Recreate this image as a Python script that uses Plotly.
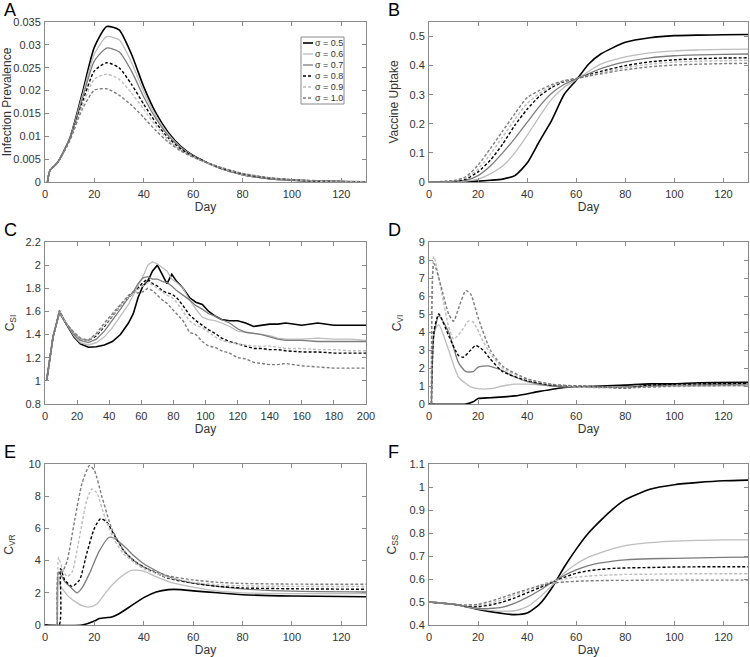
"""
Six-panel figure: epidemic / vaccination dynamics for several sigma values.
"""

import plotly.graph_objects as go


# ==========================================================
# DATA
# ==========================================================
sigmas = ["σ = 0.5", "σ = 0.6", "σ = 0.7", "σ = 0.8", "σ = 0.9", "σ = 1.0"]

# Panel A - infection prevalence
days_a = [1, 2, 5, 10, 15, 20, 25, 30, 35, 40, 45, 50, 55, 60, 70, 80, 90, 100, 110, 120, 130]
prev_05 = [0, 0.0025, 0.0042, 0.0095, 0.0192, 0.0295, 0.0340, 0.0333, 0.0280, 0.0208, 0.0150, 0.0108, 0.0078, 0.0058, 0.0032, 0.0016, 0.0008, 0.0004, 0.0002, 0.0001, 0.00005]
prev_06 = [0, 0.0025, 0.0042, 0.0094, 0.0186, 0.0280, 0.0318, 0.0311, 0.0262, 0.0197, 0.0144, 0.0104, 0.0076, 0.0057, 0.0032, 0.0016, 0.0008, 0.0004, 0.0002, 0.0001, 0.00005]
prev_07 = [0, 0.0025, 0.0042, 0.0093, 0.0180, 0.0265, 0.0293, 0.0285, 0.0243, 0.0186, 0.0138, 0.0101, 0.0075, 0.0057, 0.0032, 0.0017, 0.0009, 0.0004, 0.0002, 0.0001, 0.00005]
prev_08 = [0, 0.0025, 0.0042, 0.0092, 0.0172, 0.0243, 0.0261, 0.0250, 0.0214, 0.0170, 0.0129, 0.0096, 0.0072, 0.0056, 0.0033, 0.0018, 0.0009, 0.0005, 0.0002, 0.0001, 0.00005]
prev_09 = [0, 0.0025, 0.0042, 0.0091, 0.0166, 0.0225, 0.0236, 0.0225, 0.0195, 0.0159, 0.0122, 0.0092, 0.0070, 0.0055, 0.0033, 0.0018, 0.0010, 0.0005, 0.0002, 0.0001, 0.00005]
prev_10 = [0, 0.0025, 0.0042, 0.0090, 0.0158, 0.0201, 0.0204, 0.0190, 0.0168, 0.0141, 0.0112, 0.0087, 0.0068, 0.0054, 0.0034, 0.0019, 0.0010, 0.0005, 0.0003, 0.0001, 0.00005]

# Panel B - vaccine uptake
days_b = [0, 10, 15, 20, 25, 30, 35, 40, 45, 50, 55, 60, 65, 70, 80, 90, 100, 110, 120, 130]
vacc_05 = [0, 0.0005, 0.001, 0.003, 0.006, 0.010, 0.022, 0.065, 0.140, 0.212, 0.300, 0.350, 0.405, 0.440, 0.480, 0.496, 0.503, 0.505, 0.506, 0.507]
vacc_06 = [0, 0.001, 0.003, 0.010, 0.028, 0.055, 0.100, 0.160, 0.225, 0.285, 0.325, 0.352, 0.380, 0.405, 0.430, 0.444, 0.451, 0.454, 0.456, 0.457]
vacc_07 = [0, 0.002, 0.006, 0.022, 0.055, 0.100, 0.150, 0.205, 0.260, 0.305, 0.335, 0.354, 0.372, 0.390, 0.413, 0.427, 0.434, 0.437, 0.439, 0.440]
vacc_08 = [0, 0.003, 0.010, 0.035, 0.075, 0.130, 0.195, 0.250, 0.295, 0.325, 0.345, 0.355, 0.368, 0.380, 0.400, 0.413, 0.420, 0.424, 0.426, 0.427]
vacc_09 = [0, 0.004, 0.014, 0.045, 0.095, 0.155, 0.215, 0.270, 0.305, 0.330, 0.347, 0.356, 0.366, 0.376, 0.393, 0.405, 0.412, 0.415, 0.417, 0.418]
vacc_10 = [0, 0.005, 0.018, 0.058, 0.115, 0.175, 0.235, 0.290, 0.315, 0.335, 0.348, 0.356, 0.364, 0.372, 0.386, 0.396, 0.402, 0.405, 0.407, 0.408]

# Panel C - C_SI
days_c = [1, 5, 9, 13, 18, 22, 27, 32, 37, 42, 47, 52, 55, 58, 61, 64, 67, 70, 73, 76, 79,
          82, 86, 90, 94, 98, 102, 106, 110, 115, 120, 125, 130, 135, 140, 145, 150, 160, 170, 180, 190, 200]
csi_05 = [1.0, 1.38, 1.59, 1.5, 1.38, 1.32, 1.29, 1.295, 1.31, 1.34, 1.40, 1.5, 1.58, 1.72, 1.82, 1.86, 1.95, 2.0, 1.92, 1.84, 1.92,
          1.86, 1.8, 1.72, 1.68, 1.66, 1.6, 1.56, 1.53, 1.52, 1.52, 1.5, 1.47, 1.48, 1.49, 1.49, 1.5, 1.48, 1.5, 1.48, 1.48, 1.48]
csi_06 = [1.0, 1.38, 1.59, 1.5, 1.39, 1.33, 1.31, 1.33, 1.38, 1.46, 1.56, 1.66, 1.74, 1.82, 1.9, 2.0, 2.03, 2.01, 1.98, 1.95, 1.88,
          1.85, 1.8, 1.7, 1.62, 1.55, 1.53, 1.52, 1.5, 1.47, 1.43, 1.42, 1.41, 1.4, 1.39, 1.37, 1.36, 1.36, 1.37, 1.36, 1.36, 1.35]
csi_07 = [1.0, 1.38, 1.6, 1.5, 1.4, 1.35, 1.33, 1.36, 1.43, 1.52, 1.62, 1.72, 1.77, 1.84, 1.89, 1.9, 1.88, 1.88, 1.86, 1.85, 1.82,
          1.78, 1.74, 1.7, 1.65, 1.62, 1.58, 1.56, 1.53, 1.5, 1.45, 1.42, 1.41, 1.4, 1.38, 1.36, 1.35, 1.35, 1.34, 1.34, 1.34, 1.34]
csi_08 = [1.0, 1.38, 1.6, 1.5, 1.41, 1.36, 1.35, 1.39, 1.47, 1.56, 1.65, 1.72, 1.76, 1.8, 1.85, 1.88, 1.84, 1.82, 1.78, 1.76, 1.75,
          1.72, 1.65, 1.57, 1.52, 1.48, 1.44, 1.41, 1.37, 1.34, 1.32, 1.3, 1.28, 1.28, 1.27, 1.27, 1.26, 1.25, 1.25, 1.24, 1.24, 1.24]
csi_09 = [1.0, 1.38, 1.6, 1.5, 1.41, 1.36, 1.35, 1.4, 1.48, 1.57, 1.65, 1.72, 1.76, 1.79, 1.82, 1.85, 1.83, 1.8, 1.77, 1.74, 1.72,
          1.68, 1.6, 1.52, 1.48, 1.46, 1.42, 1.38, 1.35, 1.33, 1.32, 1.31, 1.3, 1.3, 1.3, 1.29, 1.28, 1.28, 1.27, 1.27, 1.26, 1.26]
csi_10 = [1.0, 1.38, 1.61, 1.5, 1.42, 1.37, 1.35, 1.41, 1.5, 1.58, 1.66, 1.74, 1.77, 1.76, 1.77, 1.8, 1.78, 1.74, 1.7, 1.67, 1.62,
          1.58, 1.52, 1.42, 1.4, 1.34, 1.3, 1.29, 1.26, 1.24, 1.2, 1.19, 1.16, 1.15, 1.14, 1.14, 1.15, 1.13, 1.12, 1.11, 1.11, 1.11]

# Panel D - C_VI
days_d05 = [0, 15, 18, 20, 25, 35, 45, 55, 60, 70, 80, 90, 100, 110, 130]
cvi_05 = [0, 0, 0.12, 0.3, 0.35, 0.45, 0.7, 0.92, 0.95, 1.0, 1.05, 1.12, 1.12, 1.18, 1.2]
days_d06 = [1, 2, 4, 8, 12, 17, 20, 25, 30, 35, 40, 50, 60, 80, 100, 130]
cvi_06 = [0, 4.0, 4.4, 3.0, 1.5, 0.95, 0.85, 0.85, 1.0, 1.1, 1.1, 1.0, 0.95, 0.97, 1.0, 1.02]
days_d07 = [1, 2, 4, 8, 12, 15, 18, 20, 24, 30, 35, 40, 50, 60, 80, 100, 130]
cvi_07 = [0, 3.8, 4.9, 4.0, 2.3, 1.8, 1.8, 2.05, 2.12, 1.85, 1.5, 1.25, 1.0, 0.95, 0.95, 1.05, 1.1]
days_d08 = [1, 2, 4, 8, 12, 14, 17, 19, 22, 25, 30, 40, 50, 60, 70, 80, 90, 100, 130]
cvi_08 = [0, 4.0, 5.0, 3.8, 2.7, 2.6, 3.0, 3.25, 3.0, 2.5, 1.8, 1.3, 1.05, 1.0, 0.95, 0.88, 1.05, 1.1, 1.15]
days_d09 = [1, 2, 5, 8, 10, 13, 16, 18, 22, 25, 30, 40, 50, 60, 70, 80, 100, 130]
cvi_09 = [0, 8.2, 6.3, 4.3, 3.6, 4.0, 4.6, 4.55, 3.5, 2.8, 2.0, 1.35, 1.1, 0.95, 0.9, 0.9, 0.97, 1.0]
days_d10 = [1, 2, 5, 8, 10, 12, 15, 17, 20, 25, 30, 40, 50, 60, 80, 100, 130]
cvi_10 = [0, 7.8, 6.5, 5.0, 4.6, 5.3, 6.3, 6.1, 4.8, 3.0, 2.1, 1.4, 1.1, 1.0, 0.9, 1.0, 1.05]

# Panel E - C_VR
days_e05 = [0, 15, 20, 22, 27, 30, 35, 40, 45, 50, 55, 60, 70, 80, 100, 130]
cvr_05 = [0, 0, 0.25, 0.4, 0.5, 0.7, 1.2, 1.7, 2.05, 2.2, 2.2, 2.12, 2.0, 1.88, 1.8, 1.75]
days_e06 = [5, 5.5, 6, 10, 15, 18, 21, 25, 30, 35, 40, 45, 50, 60, 70, 80, 100, 130]
cvr_06 = [0, 3.0, 2.5, 1.7, 1.2, 1.12, 1.3, 2.1, 2.9, 3.4, 3.35, 3.0, 2.7, 2.35, 2.1, 2.0, 1.95, 1.95]
days_e07 = [5, 5.5, 8, 10, 13, 15, 18, 22, 26, 28, 32, 36, 40, 50, 60, 70, 80, 100, 130]
cvr_07 = [0, 3.3, 2.7, 2.4, 2.0, 2.3, 3.2, 4.6, 5.45, 5.4, 4.9, 4.3, 3.8, 3.0, 2.6, 2.4, 2.25, 2.1, 2.05]
days_e08 = [0, 5.7, 6.3, 8, 11, 14, 17, 20, 22.5, 25, 28, 32, 36, 40, 50, 60, 70, 80, 100, 130]
cvr_08 = [0, 0, 3.5, 2.8, 2.4, 2.8, 4.5, 6.0, 6.6, 6.4, 5.6, 4.6, 4.0, 3.6, 2.9, 2.6, 2.4, 2.3, 2.25, 2.22]
days_e09 = [5, 5.5, 7, 9, 11, 14, 17, 19, 21, 24, 28, 32, 36, 40, 50, 60, 70, 80, 100, 130]
cvr_09 = [0, 4.2, 3.5, 3.0, 3.3, 5.5, 7.8, 8.45, 8.2, 6.8, 5.3, 4.4, 3.9, 3.5, 2.95, 2.65, 2.5, 2.43, 2.4, 2.39]
days_e10 = [5, 5.5, 7, 9, 12, 15, 18, 20, 23, 27, 32, 36, 40, 50, 60, 70, 80, 100, 130]
cvr_10 = [0, 3.3, 3.3, 4.0, 6.5, 8.8, 9.9, 9.6, 8.0, 6.0, 4.6, 4.0, 3.6, 3.05, 2.8, 2.65, 2.58, 2.54, 2.53]

# Panel F - C_SS
days_f = [0, 10, 15, 20, 25, 30, 35, 40, 45, 50, 55, 60, 65, 70, 75, 80, 90, 100, 110, 120, 130]
css_05 = [0.5, 0.49, 0.48, 0.468, 0.458, 0.45, 0.445, 0.452, 0.49, 0.56, 0.65, 0.73, 0.8, 0.855, 0.905, 0.945, 0.99, 1.01, 1.02, 1.027, 1.03]
css_06 = [0.5, 0.49, 0.48, 0.47, 0.464, 0.46, 0.462, 0.48, 0.52, 0.57, 0.625, 0.665, 0.695, 0.715, 0.732, 0.745, 0.758, 0.765, 0.768, 0.77, 0.77]
css_07 = [0.5, 0.49, 0.481, 0.472, 0.472, 0.478, 0.495, 0.52, 0.55, 0.585, 0.615, 0.64, 0.658, 0.67, 0.678, 0.683, 0.688, 0.69, 0.692, 0.694, 0.695]
css_08 = [0.5, 0.49, 0.483, 0.48, 0.487, 0.5, 0.518, 0.54, 0.562, 0.585, 0.607, 0.625, 0.636, 0.642, 0.646, 0.648, 0.65, 0.652, 0.653, 0.653, 0.653]
css_09 = [0.5, 0.49, 0.485, 0.485, 0.495, 0.51, 0.53, 0.55, 0.572, 0.59, 0.6, 0.608, 0.613, 0.616, 0.618, 0.62, 0.621, 0.622, 0.623, 0.623, 0.623]
css_10 = [0.5, 0.49, 0.487, 0.49, 0.503, 0.52, 0.538, 0.555, 0.57, 0.582, 0.587, 0.59, 0.592, 0.593, 0.594, 0.594, 0.595, 0.595, 0.595, 0.595, 0.595]


# ==========================================================
# STYLES
# ==========================================================
BLACK, LIGHT, DARK = "#000000", "#bdbdbd", "#7c7c7c"
STYLES = [
    dict(color=BLACK, width=1.6, dash="solid"),
    dict(color=LIGHT, width=1.3, dash="solid"),
    dict(color=DARK, width=1.3, dash="solid"),
    dict(color=BLACK, width=1.4, dash="3px,2px"),
    dict(color=LIGHT, width=1.4, dash="3px,2px"),
    dict(color=DARK, width=1.4, dash="3px,2px"),
]
FONT = "Liberation Sans, Arial, sans-serif"
TEXT = "#333333"
FRAME = "#8a8a8a"

W, H = 750, 657
COLS = [(45, 366), (429, 748)]     # pixel extents of the plot frames
ROWS = [(22, 182), (242, 404), (464, 625)]


def px_x(px):
    return px / W


def px_y(py):
    return 1 - py / H


panels = [
    dict(letter="A", ytitle="Infection Prevalence", xr=[0, 130], yr=[0, 0.035], dx=20, dy=0.005, shape="spline",
         series=[(days_a, prev_05), (days_a, prev_06), (days_a, prev_07),
                 (days_a, prev_08), (days_a, prev_09), (days_a, prev_10)], standoff=2),
    dict(letter="B", ytitle="Vaccine Uptake", xr=[0, 130], yr=[0, 0.55], dx=20, dy=0.1, shape="spline",
         series=[(days_b, vacc_05), (days_b, vacc_06), (days_b, vacc_07),
                 (days_b, vacc_08), (days_b, vacc_09), (days_b, vacc_10)], standoff=8),
    dict(letter="C", ytitle="C<sub>SI</sub>", xr=[0, 200], yr=[0.8, 2.2], dx=20, dy=0.2, shape="linear",
         series=[(days_c, csi_05), (days_c, csi_06), (days_c, csi_07),
                 (days_c, csi_08), (days_c, csi_09), (days_c, csi_10)], standoff=8),
    dict(letter="D", ytitle="C<sub>VI</sub>", xr=[0, 130], yr=[0, 9], dx=20, dy=1, shape="spline",
         series=[(days_d05, cvi_05), (days_d06, cvi_06), (days_d07, cvi_07),
                 (days_d08, cvi_08), (days_d09, cvi_09), (days_d10, cvi_10)], standoff=14),
    dict(letter="E", ytitle="C<sub>VR</sub>", xr=[0, 130], yr=[0, 10], dx=20, dy=2, shape="spline",
         series=[(days_e05, cvr_05), (days_e06, cvr_06), (days_e07, cvr_07),
                 (days_e08, cvr_08), (days_e09, cvr_09), (days_e10, cvr_10)], standoff=12),
    dict(letter="F", ytitle="C<sub>SS</sub>", xr=[0, 130], yr=[0.4, 1.1], dx=20, dy=0.1, shape="spline",
         series=[(days_f, css_05), (days_f, css_06), (days_f, css_07),
                 (days_f, css_08), (days_f, css_09), (days_f, css_10)], standoff=10),
]


# ==========================================================
# FIGURE
# ==========================================================
fig = go.Figure()
annotations = []
shapes = []

for i, p in enumerate(panels):
    row, col = divmod(i, 2)
    x0, x1 = COLS[col]
    y0, y1 = ROWS[row]
    n = "" if i == 0 else str(i + 1)

    for k, (xs, ys) in enumerate(p["series"]):
        fig.add_trace(go.Scatter(
            x=xs, y=ys, mode="lines", name=sigmas[k],
            line=dict(**STYLES[k], shape=p["shape"], smoothing=0.6),
            xaxis="x" + n, yaxis="y" + n,
            showlegend=False, hoverinfo="skip",
        ))

    axis_common = dict(
        showline=True, linecolor=FRAME, linewidth=1, mirror="ticks",
        ticks="inside", ticklen=4, tickcolor=FRAME,
        showgrid=False, zeroline=False, automargin=False,
        tickfont=dict(family=FONT, size=11, color=TEXT),
    )
    fig.update_layout({
        "xaxis" + n: dict(
            axis_common, domain=[px_x(x0), px_x(x1)], range=p["xr"], dtick=p["dx"],
            anchor="y" + n, ticklabelstandoff=2,
            title=dict(text="Day", font=dict(family=FONT, size=12, color=TEXT), standoff=2),
        ),
        "yaxis" + n: dict(
            axis_common, domain=[px_y(y1), px_y(y0)], range=p["yr"], dtick=p["dy"],
            anchor="x" + n, ticklabelstandoff=1,
            title=dict(text=p["ytitle"], font=dict(family=FONT, size=12, color=TEXT),
                       standoff=p["standoff"]),
        ),
    })

    annotations.append(dict(
        text=p["letter"], x=px_x(2 if col == 0 else 386), y=px_y(y0 - 12),
        xref="paper", yref="paper", xanchor="left", yanchor="middle",
        showarrow=False, font=dict(family=FONT, size=18, color="#000000"),
    ))

# legend box drawn inside panel A (compact, MATLAB style)
LEG_X0, LEG_X1, LEG_Y0, LEG_Y1 = 301, 344, 37, 104
shapes.append(dict(type="rect", xref="paper", yref="paper",
                   x0=px_x(LEG_X0), x1=px_x(LEG_X1), y0=px_y(LEG_Y1), y1=px_y(LEG_Y0),
                   line=dict(color=FRAME, width=1), fillcolor="white", layer="above"))
for k, label in enumerate(sigmas):
    yy = px_y(43 + 11 * k)
    st = STYLES[k]
    shapes.append(dict(type="line", xref="paper", yref="paper",
                       x0=px_x(303), x1=px_x(313), y0=yy, y1=yy, layer="above",
                       line=dict(color=st["color"], width=st["width"], dash=st["dash"])))
    annotations.append(dict(
        text=label, x=px_x(313), y=yy, xref="paper", yref="paper",
        xanchor="left", yanchor="middle", showarrow=False,
        font=dict(family=FONT, size=9, color=TEXT),
    ))

fig.update_layout(
    width=W, height=H,
    margin=dict(l=0, r=0, t=0, b=0),
    paper_bgcolor="white", plot_bgcolor="white",
    annotations=annotations,
    shapes=shapes,
    showlegend=False,
)

# drop the browser's default 8px body margin so the figure sits at the window corner
fig.write_html(
    "out.html",
    config={"displayModeBar": False},
    post_script="document.body.style.margin = '0px';",
)
